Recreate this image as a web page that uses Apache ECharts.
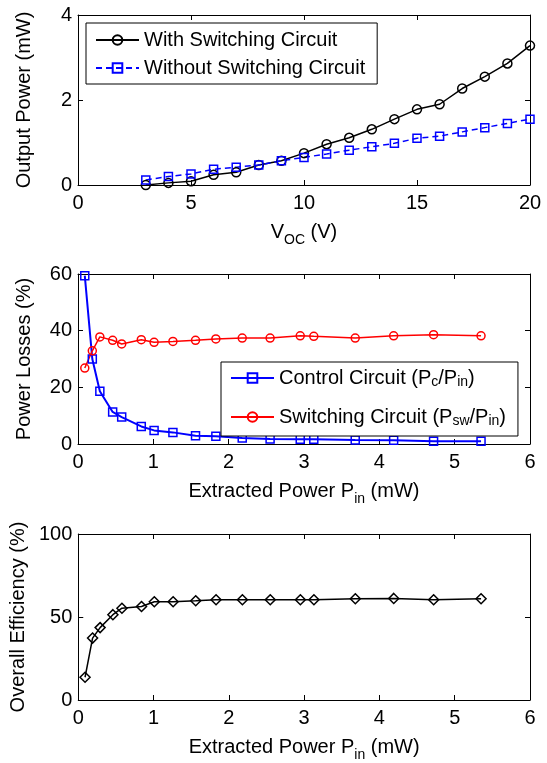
<!DOCTYPE html>
<html>
<head>
<meta charset="utf-8">
<script src="https://cdn.jsdelivr.net/npm/echarts@6/dist/echarts.min.js"></script>
<style>
    html, body { margin: 0; padding: 0; background: #fff; }
    #main { width: 547px; height: 763px; }
</style>
</head>
<body>
<div id="main"></div>
<script>
// top plot: output power vs open circuit voltage
var vocV = [3, 4, 5, 6, 7, 8, 9, 10, 11, 12, 13, 14, 15, 16, 17, 18, 19, 20];
var withSw = [0.0, 0.05, 0.09, 0.24, 0.30, 0.47, 0.57, 0.75, 0.96, 1.11, 1.31, 1.55, 1.78, 1.90, 2.27, 2.55, 2.86, 3.28];
var withoutSw = [0.12, 0.20, 0.26, 0.37, 0.42, 0.47, 0.57, 0.65, 0.73, 0.82, 0.90, 0.98, 1.10, 1.15, 1.25, 1.35, 1.45, 1.55];

// middle + bottom plots: vs extracted power
var pin = [0.09, 0.19, 0.29, 0.46, 0.58, 0.84, 1.01, 1.26, 1.56, 1.83, 2.18, 2.55, 2.95, 3.13, 3.68, 4.19, 4.72, 5.35];
var ctrlLoss = [59.4, 30.0, 18.6, 11.3, 9.5, 6.2, 4.8, 4.1, 2.9, 2.7, 2.1, 1.8, 1.7, 1.7, 1.4, 1.3, 1.0, 1.0];
var swLoss = [26.8, 32.9, 37.8, 36.6, 35.3, 36.8, 35.9, 36.2, 36.6, 37.1, 37.4, 37.4, 38.2, 38.0, 37.4, 38.2, 38.6, 38.2];
var efficiency = [13.7, 37.3, 43.6, 51.4, 55.3, 56.3, 59.2, 59.2, 59.8, 60.4, 60.4, 60.4, 60.4, 60.4, 61.0, 61.2, 60.4, 61.0];

var FONT = 'Liberation Sans';
var FS = 20;

function zip(xs, ys) {
    var out = [];
    for (var i = 0; i < xs.length; i++) out.push([xs[i], ys[i]]);
    return out;
}

var subRich = {
    sub: { fontFamily: FONT, fontSize: 14, color: '#000', padding: [16, 0, 0, 0], verticalAlign: 'bottom' }
};

// one pair of axes with labels, one pair with only inward ticks (box look)
function xAxes(grid, min, max, interval, name) {
    var base = {
        type: 'value', gridIndex: grid, min: min, max: max, interval: interval,
        axisLine: { show: true, onZero: false, lineStyle: { color: '#000', width: 1 } },
        axisTick: { show: true, inside: true, length: 5, lineStyle: { color: '#000' } },
        splitLine: { show: false }
    };
    var bottom = Object.assign({}, base, {
        position: 'bottom',
        axisLabel: { color: '#000', fontFamily: FONT, fontSize: FS, margin: 8 },
        name: name, nameLocation: 'middle', nameGap: 32,
        nameTextStyle: { color: '#000', fontFamily: FONT, fontSize: FS, verticalAlign: 'top', rich: subRich }
    });
    var top = Object.assign({}, base, { position: 'top', axisLabel: { show: false } });
    return [bottom, top];
}

function yAxes(grid, min, max, interval, name) {
    var base = {
        type: 'value', gridIndex: grid, min: min, max: max, interval: interval,
        axisLine: { show: true, onZero: false, lineStyle: { color: '#000', width: 1 } },
        axisTick: { show: true, inside: true, length: 5, lineStyle: { color: '#000' } },
        splitLine: { show: false }
    };
    var left = Object.assign({}, base, {
        position: 'left',
        axisLabel: { color: '#000', fontFamily: FONT, fontSize: FS, margin: 6 },
        name: name, nameLocation: 'middle', nameGap: 44,
        nameTextStyle: { color: '#000', fontFamily: FONT, fontSize: FS }
    });
    var right = Object.assign({}, base, { position: 'right', axisLabel: { show: false } });
    return [left, right];
}

var xs = [].concat(
    xAxes(0, 0, 20, 5, 'V{sub|OC} (V)'),
    xAxes(1, 0, 6, 1, 'Extracted Power P{sub|in} (mW)'),
    xAxes(2, 0, 6, 1, 'Extracted Power P{sub|in} (mW)')
);
var ys = [].concat(
    yAxes(0, 0, 4, 2, 'Output Power (mW)'),
    yAxes(1, 0, 60, 20, 'Power Losses (%)'),
    yAxes(2, 0, 100, 50, 'Overall Efficiency (%)')
);

function lineSeries(name, xi, yi, data, color, symbol, size, dashed, width) {
    return {
        name: name, type: 'line', xAxisIndex: xi, yAxisIndex: yi,
        data: data, symbol: symbol, symbolSize: size, showSymbol: true,
        animation: false,
        lineStyle: { color: color, width: width || 1.5, type: dashed ? [6, 4] : 'solid' },
        itemStyle: { color: 'rgba(255,255,255,0)', borderColor: color, borderWidth: 1.5 }
    };
}

var legendText = {
    color: '#000', fontFamily: FONT, fontSize: FS, lineHeight: 22,
    rich: subRich
};

var option = {
    backgroundColor: '#fff',
    animation: false,
    grid: [
        { left: 78, top: 15, width: 452, height: 170 },
        { left: 78, top: 274, width: 452, height: 170 },
        { left: 78, top: 534, width: 452, height: 170 }
    ],
    xAxis: xs,
    yAxis: ys,
    legend: [
        {
            data: ['With Switching Circuit', 'Without Switching Circuit'],
            orient: 'vertical', left: 86, top: 23,
            itemWidth: 43, itemHeight: 12, itemGap: 6,
            padding: [6, 12, 5, 9],
            backgroundColor: '#fff', borderColor: '#000', borderWidth: 1,
            textStyle: legendText
        },
        {
            data: ['ctrl', 'sw'],
            orient: 'vertical', left: 221, top: 362,
            itemWidth: 43, itemHeight: 12, itemGap: 17,
            padding: [5, 12, 8, 9],
            backgroundColor: '#fff', borderColor: '#000', borderWidth: 1,
            formatter: function (n) {
                return n === 'ctrl' ? 'Control Circuit (P{sub|c}/P{sub|in})'
                                    : 'Switching Circuit (P{sub|sw}/P{sub|in})';
            },
            textStyle: legendText
        }
    ],
    series: [
        lineSeries('With Switching Circuit', 0, 0, zip(vocV, withSw), '#000', 'circle', 9, false),
        lineSeries('Without Switching Circuit', 0, 0, zip(vocV, withoutSw), '#0000ff', 'rect', 8, true),
        lineSeries('ctrl', 2, 2, zip(pin, ctrlLoss), '#0000ff', 'rect', 8, false, 2),
        lineSeries('sw', 2, 2, zip(pin, swLoss), '#ff0000', 'circle', 8, false),
        lineSeries('eff', 4, 4, zip(pin, efficiency), '#000', 'diamond', 10, false)
    ]
};

var chart = echarts.init(document.getElementById('main'), null, { renderer: 'canvas' });
chart.setOption(option);
</script>
</body>
</html>
